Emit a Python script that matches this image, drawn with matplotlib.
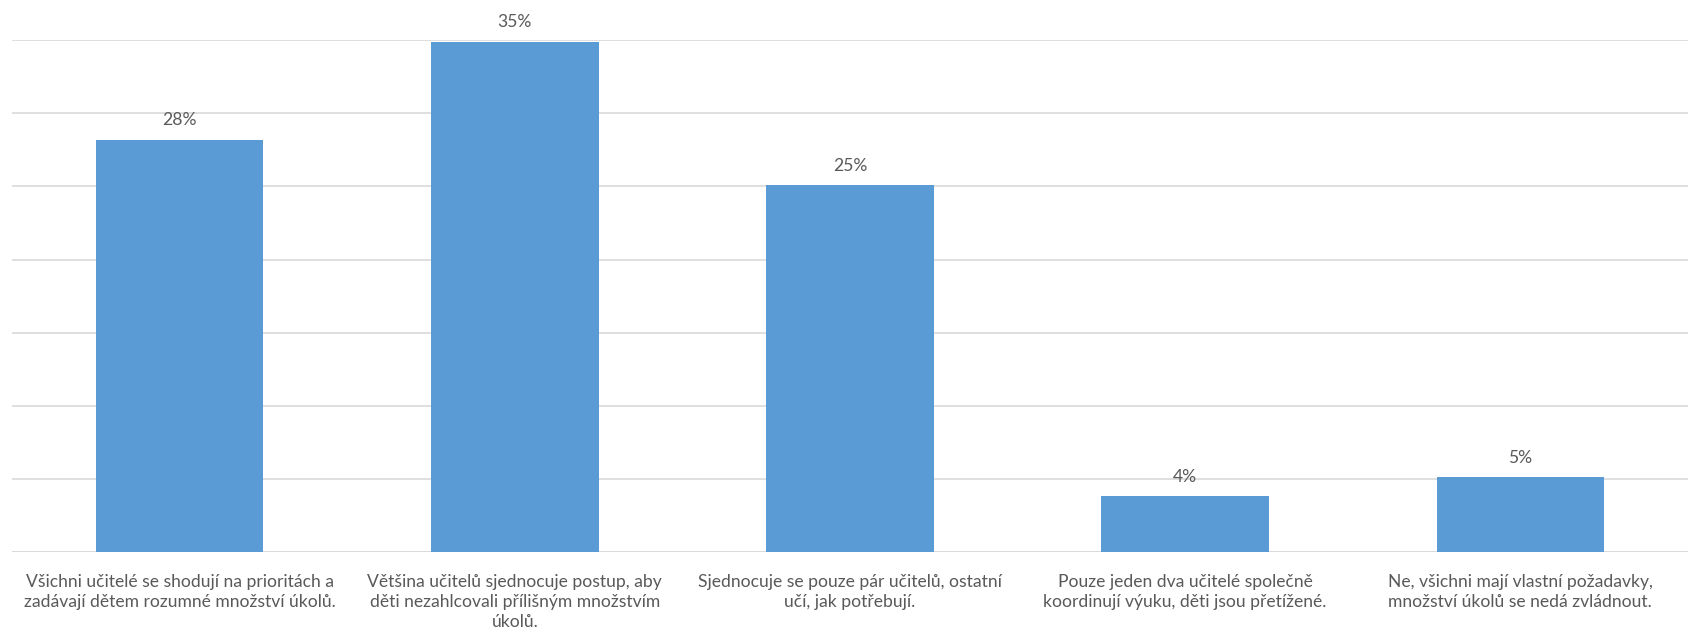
import matplotlib
matplotlib.use("Agg")
import matplotlib.pyplot as plt

categories = [
    "Všichni učitelé se shodují na prioritách a\nzadávají dětem rozumné množství úkolů.",
    "Většina učitelů sjednocuje postup, aby\nděti nezahlcovali přílišným množstvím\núkolů.",
    "Sjednocuje se pouze pár učitelů, ostatní\nučí, jak potřebují.",
    "Pouze jeden dva učitelé společně\nkoordinují výuku, děti jsou přetížené.",
    "Ne, všichni mají vlastní požadavky,\nmnožství úkolů se nedá zvládnout.",
]
values = [28.2, 34.9, 25.1, 3.8, 5.1]
value_labels = ["28%", "35%", "25%", "4%", "5%"]
gridlines = [0, 5, 10, 15, 20, 25, 30, 35]

plt.rcParams['font.family'] = ['Lato', 'DejaVu Sans']
fig = plt.figure(figsize=(16.9, 6.37), dpi=100)
ax = fig.add_axes([0.0071, 0.1334, 0.9917, 0.8036])

x = list(range(len(categories)))
bars = ax.bar(x, values, width=0.5, color="#5B9BD5", zorder=3)
ax.set_xlim(-0.5, len(categories) - 0.5)
ax.set_ylim(0, 35)
ax.set_yticks(gridlines)
ax.yaxis.grid(True, color="#D9D9D9", linewidth=1.2, zorder=0)
ax.tick_params(axis='y', left=False, labelleft=False)
ax.set_xticks(x)
ax.set_xticklabels(categories, fontsize=12.6, color="#595959", linespacing=1.3)
ax.tick_params(axis='x', length=0, pad=16)
for s in ax.spines.values():
    s.set_visible(False)
ax.axhline(0, color="#D9D9D9", linewidth=1.2, zorder=1)

for xi, v, lab in zip(x, values, value_labels):
    ax.annotate(lab, (xi, v), xytext=(0, 8), textcoords="offset points",
                ha="center", va="bottom", fontsize=12.6, color="#595959",
                annotation_clip=False)

fig.savefig("out.png", dpi=100)
